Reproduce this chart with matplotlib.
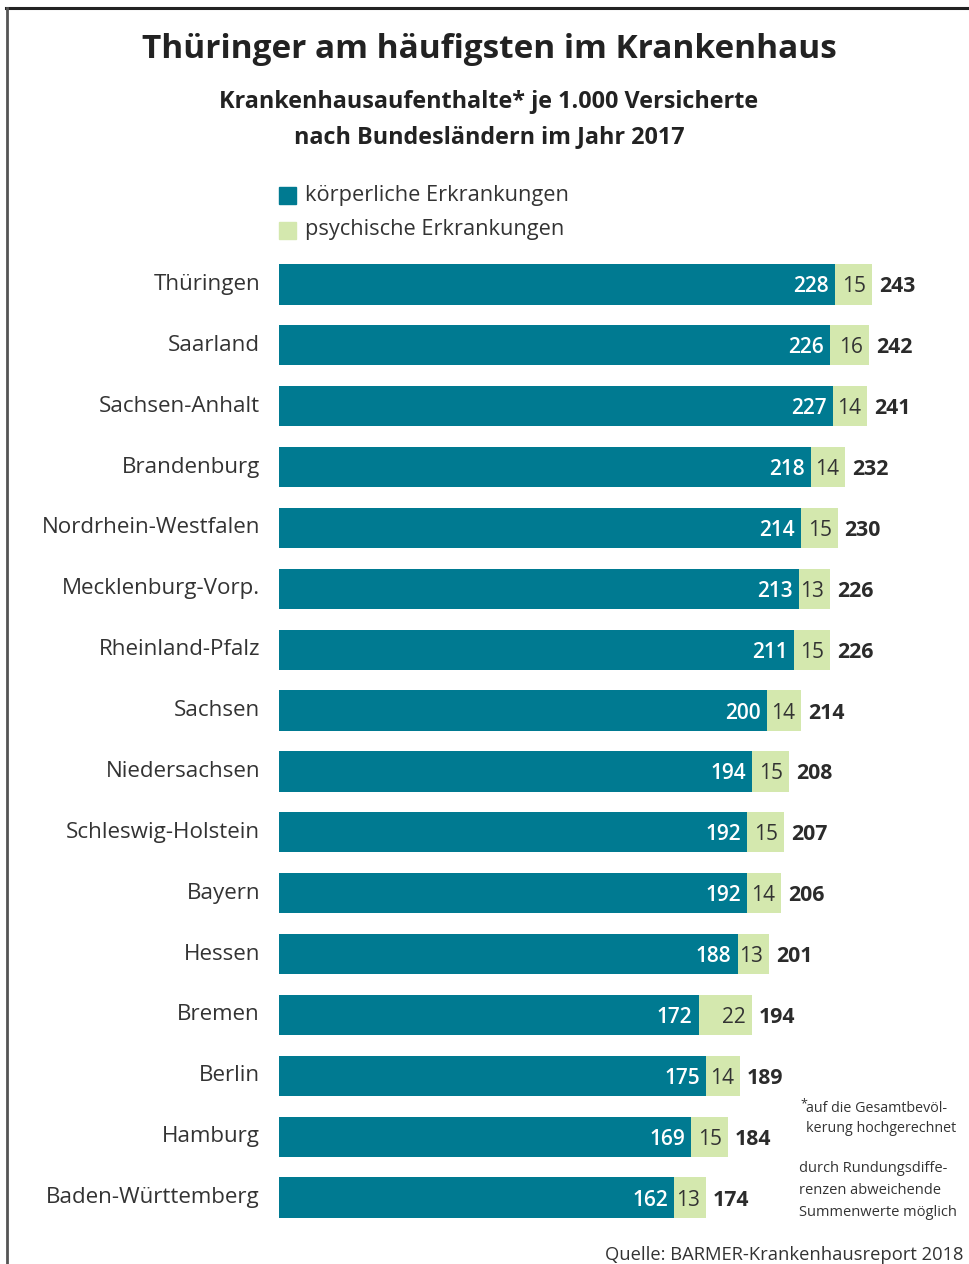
import matplotlib
matplotlib.use("Agg")
import matplotlib.pyplot as plt
from matplotlib.lines import Line2D

W, H = 969, 1264
DPI = 100

laender = ["Thüringen", "Saarland", "Sachsen-Anhalt", "Brandenburg",
           "Nordrhein-Westfalen", "Mecklenburg-Vorp.", "Rheinland-Pfalz",
           "Sachsen", "Niedersachsen", "Schleswig-Holstein", "Bayern",
           "Hessen", "Bremen", "Berlin", "Hamburg", "Baden-Württemberg"]
koerperlich = [228, 226, 227, 218, 214, 213, 211, 200, 194, 192, 192, 188,
               172, 175, 169, 162]
psychisch = [15, 16, 14, 14, 15, 13, 15, 14, 15, 15, 14, 13, 22, 14, 15, 13]
gesamt = [243, 242, 241, 232, 230, 226, 226, 214, 208, 207, 206, 201, 194,
          189, 184, 174]

TEAL = "#007A91"
LIGHT = "#D4E8AE"
DARK = "#2B2B2B"

FONT = ["Open Sans", "DejaVu Sans"]
plt.rcParams["font.family"] = FONT

fig = plt.figure(figsize=(W / DPI, H / DPI), dpi=DPI)


def fx(px):
    return px / W


def fy(py):
    return 1 - py / H


# frame lines at top and left
fig.add_artist(Line2D([fx(6), fx(969)], [fy(8), fy(8)], color="#222222",
                      lw=2.2, transform=fig.transFigure))
fig.add_artist(Line2D([fx(7), fx(7)], [fy(8), fy(1264)], color="#555555",
                      lw=2.0, transform=fig.transFigure))

# titles
fig.text(fx(489), fy(45), "Thüringer am häufigsten im Krankenhaus",
         ha="center", va="center_baseline", fontsize=24, fontweight="bold",
         color="#222222")
fig.text(fx(489), fy(102), "Krankenhausaufenthalte* je 1.000 Versicherte",
         ha="center", va="center", fontsize=16.8, fontweight="bold",
         color="#222222")
fig.text(fx(489), fy(137), "nach Bundesländern im Jahr 2017",
         ha="center", va="center", fontsize=16.8, fontweight="bold",
         color="#222222")

# legend
for py, col, txt in [(195, TEAL, "körperliche Erkrankungen"),
                     (230, LIGHT, "psychische Erkrankungen")]:
    fig.patches.append(plt.Rectangle((fx(279), fy(py + 8.5)), fx(17), 17 / H,
                                     color=col, transform=fig.transFigure))
    fig.text(fx(305), fy(py), txt, ha="left", va="center", fontsize=15.7,
             color="#333333")

# bar chart
ax = fig.add_axes([fx(279), fy(1228), fx(962) - fx(279), (1228 - 254) / H])
ypos = list(range(len(laender)))
ax.barh(ypos, koerperlich, height=0.66, color=TEAL, linewidth=0)
ax.barh(ypos, psychisch, left=koerperlich, height=0.66, color=LIGHT,
        linewidth=0)
ax.set_xlim(0, 280)
ax.set_ylim(len(laender) - 0.5, -0.5)
ax.axis("off")

PX = 1 / 2.44  # data units per pixel
for i, name in enumerate(laender):
    k, p, g = koerperlich[i], psychisch[i], gesamt[i]
    ax.text(-19 * PX, i, name, ha="right", va="center", fontsize=16.1,
            color="#333333", clip_on=False)
    ax.text(k - 6 * PX, i, str(k), ha="right", va="center_baseline",
            fontsize=15, fontweight="semibold", color="white")
    ax.text(k + p - 6 * PX, i, str(p), ha="right", va="center_baseline",
            fontsize=15, color="#333333")
    ax.text(k + p + 7 * PX, i, str(g), ha="left", va="center_baseline",
            fontsize=15.3, fontweight="bold", color=DARK, clip_on=False)

# notes
fig.text(fx(800), fy(1104), "*", ha="left", va="center", fontsize=9,
         color="#333333")
fig.text(fx(806), fy(1108), "auf die Gesamtbevöl-", ha="left", va="center",
         fontsize=10.3, color="#333333")
fig.text(fx(806), fy(1128), "kerung hochgerechnet", ha="left", va="center",
         fontsize=10.3, color="#333333")
for py, txt in [(1169, "durch Rundungsdiffe-"), (1191, "renzen abweichende"),
                (1212, "Summenwerte möglich")]:
    fig.text(fx(799), fy(py), txt, ha="left", va="center", fontsize=10.5,
             color="#333333")

fig.text(fx(605), fy(1255), "Quelle: BARMER-Krankenhausreport 2018",
         ha="left", va="center", fontsize=13.2, color="#333333")

fig.savefig("out.png", dpi=DPI)
